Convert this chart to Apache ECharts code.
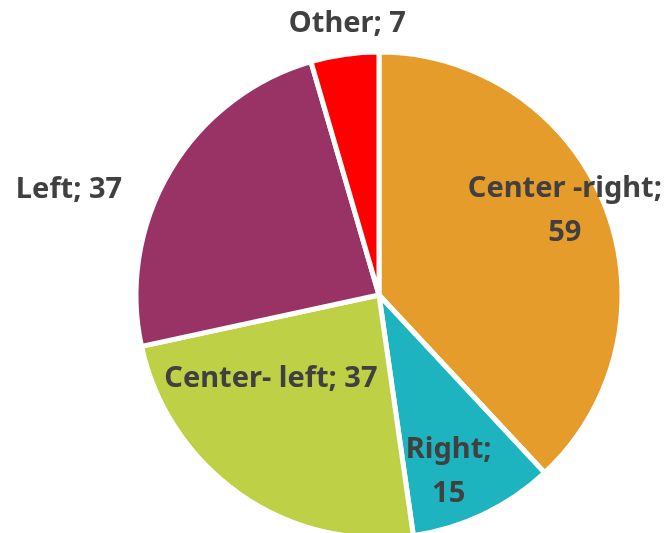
<!DOCTYPE html>
<html>
<head>
<meta charset="utf-8">
<script src="https://cdn.jsdelivr.net/npm/echarts@6/dist/echarts.min.js"></script>
<style>
  html, body { margin: 0; padding: 0; background: #fff; }
  #chart { width: 672px; height: 533px; }
</style>
</head>
<body>
<div id="chart"></div>
<script>
  // slices, clockwise from 12 o'clock
  const categories = ['Center -right', 'Right', 'Center- left', 'Left', 'Other'];
  const values = [59, 15, 37, 37, 7];
  const colors = ['#E59C2A', '#1DB4BF', '#BDD046', '#993366', '#FF0000'];
  // label placement tweaks (offset from the default inside spot)
  const labelOffsets = [[70, -39], [16, 64], [-37, -18], [-203, -42], [-14, -148]];
  const twoLine = [true, true, false, false, false];

  let myChart = echarts.init(document.getElementById('chart'));
  let option = {
    animation: false,
    series: [{
      type: 'pie',
      center: [379, 295],
      radius: 243,
      startAngle: 90,
      clockwise: true,
      itemStyle: { borderColor: '#fff', borderWidth: 5 },
      label: {
        position: 'inside',
        color: '#404040',
        fontFamily: 'Noto Sans, sans-serif',
        fontWeight: 'bold',
        fontSize: 29,
        lineHeight: 44,
        align: 'center'
      },
      labelLine: { show: false },
      data: categories.map((name, i) => ({
        name: name,
        value: values[i],
        itemStyle: { color: colors[i] },
        label: {
          offset: labelOffsets[i],
          formatter: twoLine[i] ? '{b};\n{c}' : '{b}; {c}'
        }
      }))
    }]
  };
  myChart.setOption(option);
</script>
</body>
</html>
